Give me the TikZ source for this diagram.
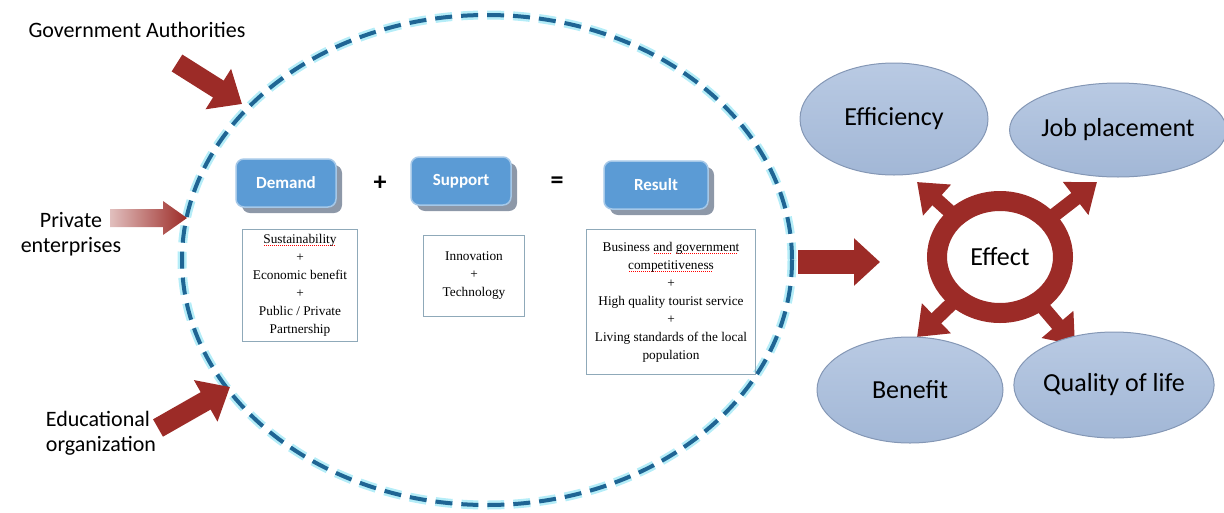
\documentclass[tikz,border=0pt]{standalone}
\usepackage{fontspec}
\setmainfont{Carlito}
\newfontfamily\tnrfont{Liberation Serif}
\usepackage{xcolor}
\usetikzlibrary{shapes.geometric,arrows.meta,positioning,shadows,backgrounds}

\definecolor{arrowred}{HTML}{9C2B27}
\definecolor{boxblue}{HTML}{5B9BD5}
\definecolor{shadowgray}{HTML}{8D98A8}
\definecolor{ovaltop}{HTML}{B9CAE3}
\definecolor{ovalblue}{HTML}{A2B7D6}
\definecolor{ovaledge}{HTML}{8497B5}
\definecolor{dashblue}{HTML}{1F6594}
\definecolor{glowcyan}{HTML}{B5EDF8}
\definecolor{framegray}{HTML}{8FA9B9}

\newsavebox{\spellbox}
\newcommand{\spellmark}[1]{\sbox{\spellbox}{#1}\rlap{\color{red}\raisebox{-2.5pt}{\hbox to \wd\spellbox{\leaders\hbox to 2pt{\hss\rule{0.9pt}{0.9pt}\hss}\hfill}}}#1}

\begin{document}
\begin{tikzpicture}[
    x=1pt, y=-1pt,
    head/.style={rectangle, rounded corners=8pt, fill=boxblue, draw=boxblue!55!white, line width=1.5pt, minimum width=100pt, minimum height=48pt, text=white, font=\fontsize{17}{20}\selectfont\bfseries, drop shadow={shadow xshift=6pt, shadow yshift=-6pt, fill=shadowgray, opacity=1}},
    textbox/.style={rectangle, draw=framegray, line width=0.8pt, align=center, font=\fontsize{13.3}{18}\selectfont\tnrfont, inner sep=3pt},
    oval/.style={ellipse, top color=ovaltop, bottom color=ovalblue, draw=ovaledge, line width=1pt, font=\fontsize{26}{30}\selectfont, inner sep=0pt},
    ring/.style={ellipse, draw=arrowred, line width=20pt, fill=white, minimum width=126pt, minimum height=112pt, inner sep=0pt, font=\fontsize{26}{30}\selectfont},
    sign/.style={font=\fontsize{26}{30}\selectfont\bfseries},
    label/.style={font=\fontsize{22}{25}\selectfont},
    blockarrow/.style={draw=arrowred, line width=20pt, -{Triangle[length=28pt,width=46pt]}},
    spoke/.style={draw=arrowred, line width=14pt, -{Triangle[length=27pt,width=40pt]}},
    border/.style={draw=dashblue, line width=4pt, dash pattern=on 17pt off 9pt}
]
\useasboundingbox (0,0) rectangle (1224,512);

\draw[glowcyan, line width=9pt, dash pattern=on 17pt off 9pt] (487,260) ellipse [x radius=305, y radius=245];
\draw[border] (487,260) ellipse [x radius=305, y radius=245];

\node[label] (gov) at (137,30) {Government Authorities};
\node[label, align=center] (priv) at (71,234) {Private\\enterprises};
\node[label, align=left] (edu) at (101,433) {Educational\\organization};

\coordinate (govtail) at (177,63);
\coordinate (govtip) at (242,104);
\coordinate (privtail) at (110,218);
\coordinate (privtip) at (187,218);
\coordinate (edutail) at (158,428);
\coordinate (edutip) at (230,387);

\draw[blockarrow] (govtail) -- (govtip);
\shade[left color=arrowred!30, middle color=arrowred, right color=arrowred]
    (privtail) ++(0,-9) -- ++(53,0) -- ++(0,-8) -- (privtip) -- ++(-24,17) -- ++(0,-8) -- ++(-53,0) -- cycle;
\draw[blockarrow] (edutail) -- (edutip);

\node[head] (demand) at (286,183) {Demand};
\node[sign] (plus) at (380,183) {+};
\node[head] (support) at (461,181) {Support};
\node[sign] (equals) at (557,183) {=};
\node[head, minimum width=104pt] (result) at (656,185) {Result};

\node[textbox, minimum width=115pt, minimum height=112pt] (demandtext) at (300,285)
    {\spellmark{Sustainability}\\+\\Economic benefit\\+\\Public / Private\\Partnership};
\node[textbox, minimum width=101pt, minimum height=81pt] (supporttext) at (474,276)
    {Innovation\\+\\Technology};
\node[textbox, minimum width=169pt, minimum height=145pt] (resulttext) at (671,302)
    {Business \spellmark{and} \spellmark{government}\\\spellmark{competitiveness}\\+\\High quality tourist service\\+\\Living standards of the local\\population};

\coordinate (bigtail) at (798,262);
\coordinate (bigtip) at (880,262);
\draw[draw=arrowred, line width=24pt, -{Triangle[length=26pt,width=46pt]}] (bigtail) -- (bigtip);

\node[ring] (effect) at (1000,257) {Effect};

\coordinate (tipnw) at (917,182);
\coordinate (tipne) at (1097,182);
\coordinate (tipsw) at (917,337);
\coordinate (tipse) at (1075,345);

\begin{pgfonlayer}{background}
\draw[spoke] (effect.center) -- (tipnw);
\draw[spoke] (effect.center) -- (tipne);
\draw[spoke] (effect.center) -- (tipsw);
\draw[spoke] (effect.center) -- (tipse);
\end{pgfonlayer}

\node[oval, minimum width=188pt, minimum height=112pt] (efficiency) at (894,119) {Efficiency};
\node[oval, minimum width=210pt, minimum height=94pt] (jobs) at (1118,130) {Job placement};
\node[oval, minimum width=186pt, minimum height=106pt] (benefit) at (910,390) {Benefit};
\node[oval, minimum width=188pt, minimum height=106pt] (quality) at (1114,385) {Quality of life};

\end{tikzpicture}
\end{document}
